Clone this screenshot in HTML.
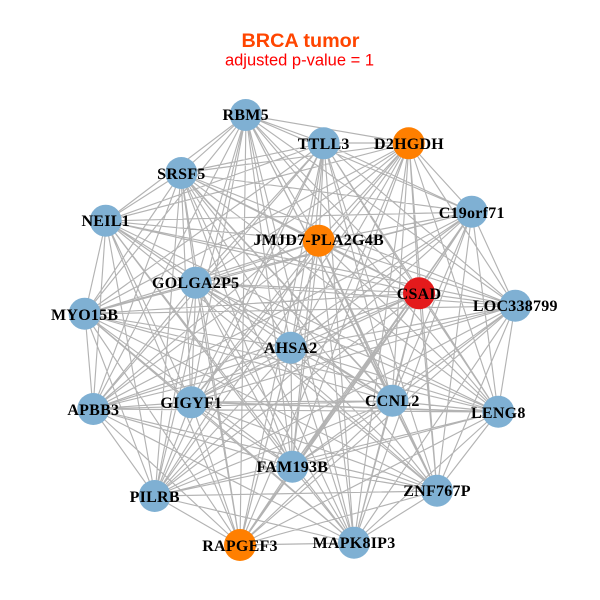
<!DOCTYPE html>
<html><head><meta charset="utf-8"><style>html,body{margin:0;padding:0;background:#fff}svg{display:block}</style></head><body>
<svg width="600" height="600" viewBox="0 0 600 600" xmlns="http://www.w3.org/2000/svg">
<rect width="600" height="600" fill="#fff"/>
<text x="300.5" y="47" text-anchor="middle" font-family="'Liberation Sans',sans-serif" font-weight="bold" font-size="19.8" fill="#ff4500">BRCA tumor</text>
<text x="299.5" y="65.5" text-anchor="middle" font-family="'Liberation Sans',sans-serif" font-size="16.5" fill="#ff0000">adjusted p-value = 1</text>
<path fill="none" stroke="#b3b3b3" stroke-width="1.15" stroke-linejoin="round" d="
M246 115L324 143 246 115 409 143 246 115 472 212 246 115 319 241 246 115 419 293 246 115 515 306 246 115 181 173 246 115 106 221 246 115 196 283 246 115 85 314 246 115 291 348 246 115 93 409 246 115 191 402 246 115 292 467 246 115 155 496 246 115 240 545 246 115 392 401 246 115 498 412 246 115 437 491 246 115 354 543
M324 143L409 143 324 143 472 212 324 143 319 241 324 143 419 293 324 143 515 306 324 143 181 173 324 143 106 221 324 143 196 283 324 143 85 314 324 143 291 348 324 143 93 409 324 143 191 402 324 143 292 467 324 143 155 496 324 143 240 545 324 143 392 401 324 143 498 412 324 143 437 491 324 143 354 543
M409 143L472 212 409 143 319 241 409 143 419 293 409 143 515 306 409 143 181 173 409 143 106 221 409 143 196 283 409 143 85 314 409 143 291 348 409 143 93 409 409 143 191 402 409 143 292 467 409 143 155 496 409 143 240 545 409 143 392 401 409 143 498 412 409 143 437 491 409 143 354 543
M472 212L319 241 472 212 419 293 472 212 515 306 472 212 181 173 472 212 106 221 472 212 196 283 472 212 85 314 472 212 291 348 472 212 93 409 472 212 191 402 472 212 292 467 472 212 155 496 472 212 240 545 472 212 392 401 472 212 498 412 472 212 437 491 472 212 354 543
M319 241L419 293 319 241 515 306 319 241 181 173 319 241 106 221 319 241 196 283 319 241 85 314 319 241 291 348 319 241 93 409 319 241 191 402 319 241 292 467 319 241 155 496 319 241 240 545 319 241 392 401 319 241 498 412 319 241 437 491 319 241 354 543
M419 293L515 306 419 293 181 173 419 293 106 221 419 293 196 283 419 293 85 314 419 293 291 348 419 293 93 409 419 293 191 402 419 293 292 467 419 293 155 496 419 293 240 545 419 293 392 401 419 293 498 412 419 293 437 491 419 293 354 543
M515 306L181 173 515 306 106 221 515 306 196 283 515 306 85 314 515 306 291 348 515 306 93 409 515 306 191 402 515 306 292 467 515 306 155 496 515 306 240 545 515 306 392 401 515 306 498 412 515 306 437 491 515 306 354 543
M181 173L106 221 181 173 196 283 181 173 85 314 181 173 291 348 181 173 93 409 181 173 191 402 181 173 292 467 181 173 155 496 181 173 240 545 181 173 392 401 181 173 498 412 181 173 437 491 181 173 354 543
M106 221L196 283 106 221 85 314 106 221 291 348 106 221 93 409 106 221 191 402 106 221 292 467 106 221 155 496 106 221 240 545 106 221 392 401 106 221 498 412 106 221 437 491 106 221 354 543
M196 283L85 314 196 283 291 348 196 283 93 409 196 283 191 402 196 283 292 467 196 283 155 496 196 283 240 545 196 283 392 401 196 283 498 412 196 283 437 491 196 283 354 543
M85 314L291 348 85 314 93 409 85 314 191 402 85 314 292 467 85 314 155 496 85 314 240 545 85 314 392 401 85 314 498 412 85 314 437 491 85 314 354 543
M291 348L93 409 291 348 191 402 291 348 292 467 291 348 155 496 291 348 240 545 291 348 392 401 291 348 498 412 291 348 437 491 291 348 354 543
M93 409L191 402 93 409 292 467 93 409 155 496 93 409 240 545 93 409 392 401 93 409 498 412 93 409 437 491 93 409 354 543
M191 402L292 467 191 402 155 496 191 402 240 545 191 402 392 401 191 402 498 412 191 402 437 491 191 402 354 543
M292 467L155 496 292 467 240 545 292 467 392 401 292 467 498 412 292 467 437 491 292 467 354 543
M155 496L240 545 155 496 392 401 155 496 498 412 155 496 437 491 155 496 354 543
M240 545L392 401 240 545 498 412 240 545 437 491 240 545 354 543
M392 401L498 412 392 401 437 491 392 401 354 543
M498 412L437 491 498 412 354 543
M437 491L354 543"/>
<path fill="none" stroke="#b3b3b3" stroke-width="1.6" d="M240 545L419 293M191 402L498 412M392 401L437 491M319 241L392 401M181 173L392 401"/>
<g fill="#7fb0d3">
<circle cx="245.7" cy="115" r="16"/><circle cx="323.7" cy="143.3" r="16"/><circle cx="471.7" cy="211.7" r="16"/><circle cx="515.3" cy="305.7" r="16"/><circle cx="181.3" cy="173" r="16"/><circle cx="105.7" cy="220.7" r="16"/><circle cx="195.7" cy="282.7" r="16"/><circle cx="84.7" cy="313.7" r="16"/><circle cx="290.7" cy="347.7" r="16"/><circle cx="93.3" cy="409" r="16"/><circle cx="191.3" cy="402.3" r="16"/><circle cx="292.3" cy="466.7" r="16"/><circle cx="154.7" cy="496" r="16"/><circle cx="392.3" cy="400.7" r="16"/><circle cx="498.3" cy="411.7" r="16"/><circle cx="437" cy="490.7" r="16"/><circle cx="354" cy="542.7" r="16"/>
</g>
<g fill="#ff7f00"><circle cx="408.7" cy="143.3" r="16"/><circle cx="318.7" cy="240.7" r="16"/><circle cx="240" cy="545" r="16"/></g>
<circle cx="419" cy="293.3" r="16" fill="#e41a1c"/>
<g font-family="'Liberation Serif',serif" font-weight="bold" font-size="16" letter-spacing=".25" fill="#000" text-anchor="middle">
<text x="245.7" y="120">RBM5</text>
<text x="323.7" y="149">TTLL3</text>
<text x="409" y="149">D2HGDH</text>
<text x="471.7" y="218">C19orf71</text>
<text x="318.7" y="245">JMJD7-PLA2G4B</text>
<text x="419" y="299">CSAD</text>
<text x="515.3" y="311">LOC338799</text>
<text x="181.3" y="179">SRSF5</text>
<text x="105.7" y="226">NEIL1</text>
<text x="195.7" y="288">GOLGA2P5</text>
<text x="84.7" y="320">MYO15B</text>
<text x="290.7" y="353">AHSA2</text>
<text x="93.3" y="415">APBB3</text>
<text x="191.3" y="408">GIGYF1</text>
<text x="292.3" y="472">FAM193B</text>
<text x="154.7" y="502">PILRB</text>
<text x="240" y="551">RAPGEF3</text>
<text x="392.3" y="406">CCNL2</text>
<text x="498.3" y="418">LENG8</text>
<text x="437" y="496">ZNF767P</text>
<text x="354" y="548">MAPK8IP3</text>
</g>
</svg>
</body></html>
